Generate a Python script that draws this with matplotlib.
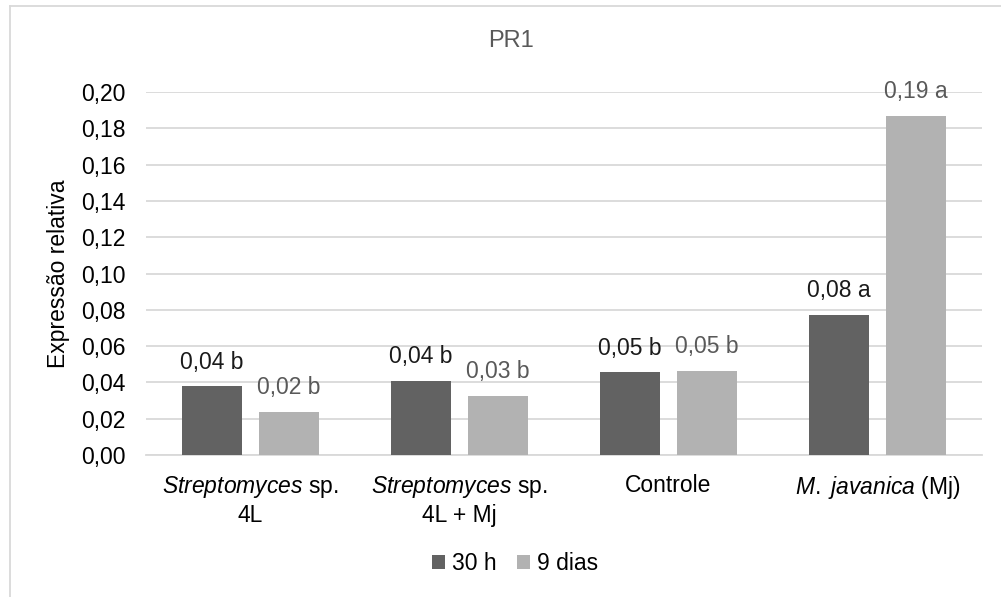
import matplotlib
matplotlib.use("Agg")
import matplotlib.pyplot as plt
from matplotlib.lines import Line2D
import numpy as np

plt.rcParams['font.family'] = ['Liberation Sans', 'DejaVu Sans']
plt.rcParams['mathtext.fontset'] = 'custom'
plt.rcParams['mathtext.rm'] = 'Liberation Sans'
plt.rcParams['mathtext.it'] = 'Liberation Sans:italic'

# Data
categories = [r"$\mathit{Streptomyces}$ sp." + "\n4L",
              r"$\mathit{Streptomyces}$ sp." + "\n4L + Mj",
              "Controle",
              r"$\mathit{M.\ javanica}$ (Mj)"]
series = ["30 h", "9 dias"]
vals_30h = [0.038, 0.041, 0.0457, 0.0773]
vals_9d = [0.0239, 0.0325, 0.0465, 0.1868]
labels_30h = ["0,04 b", "0,04 b", "0,05 b", "0,08 a"]
labels_9d = ["0,02 b", "0,03 b", "0,05 b", "0,19 a"]
yticks = np.arange(0, 0.2001, 0.02)

dark = '#626262'
light = '#b2b2b2'
grid_c = '#d9d9d9'
fs = 16.5

fig = plt.figure(figsize=(10.01, 5.97), dpi=100)
ax = fig.add_axes([146 / 1001, 1 - 455 / 597, (982 - 146) / 1001, (455 - 92) / 597])

x = np.arange(len(categories))
w = 0.29
gap = 0.08
off = (w + gap) / 2
b1 = ax.bar(x - off, vals_30h, w, color=dark, label=series[0], zorder=3)
b2 = ax.bar(x + off, vals_9d, w, color=light, label=series[1], zorder=3)

for rect, lab in zip(b1, labels_30h):
    ax.annotate(lab, (rect.get_x() + rect.get_width() / 2, rect.get_height()),
                xytext=(0, 17.3), textcoords='offset points',
                ha='center', va='center', fontsize=fs, color='#1a1a1a')
for rect, lab in zip(b2, labels_9d):
    ax.annotate(lab, (rect.get_x() + rect.get_width() / 2, rect.get_height()),
                xytext=(0, 17.3), textcoords='offset points',
                ha='center', va='center', fontsize=fs, color='#595959')

ax.set_xlim(-0.5, len(categories) - 0.5)
ax.set_ylim(0, 0.2)
ax.set_yticks(yticks)
ax.set_yticklabels([f"{v:.2f}".replace('.', ',') for v in yticks])
ax.set_xticks(x)
ax.set_xticklabels(categories)
ax.tick_params(axis='both', length=0, labelsize=fs, colors='black')
ax.tick_params(axis='y', pad=15)
ax.tick_params(axis='x', pad=14)

ax.yaxis.grid(True, color=grid_c, linewidth=1.3, zorder=0)
ax.set_axisbelow(True)
for s in ['left', 'right', 'top']:
    ax.spines[s].set_visible(False)
ax.spines['bottom'].set_color(grid_c)
ax.spines['bottom'].set_linewidth(1.3)

ax.set_ylabel("Expressão relativa", fontsize=fs)
ax.yaxis.set_label_coords(-(146 - 58) / 836, 0.5)
ax.yaxis.label.set_va('center')

fig.text(511 / 1001, 1 - 41 / 597, "PR1", ha='center', va='center',
         fontsize=17, color='#595959')

fig.legend(loc='center', bbox_to_anchor=(515 / 1001, 1 - 564 / 597), ncol=2,
           frameon=False, fontsize=fs, handlelength=0.55, handleheight=0.55,
           handletextpad=0.3, columnspacing=0.9)

# chart area border (cropped on right and bottom)
fig.add_artist(Line2D([10 / 1001, 1.0], [1 - 6 / 597, 1 - 6 / 597],
                      transform=fig.transFigure, color=grid_c, linewidth=1.3))
fig.add_artist(Line2D([10 / 1001, 10 / 1001], [0.0, 1 - 6 / 597],
                      transform=fig.transFigure, color=grid_c, linewidth=1.3))

fig.savefig("out.png", dpi=100)
